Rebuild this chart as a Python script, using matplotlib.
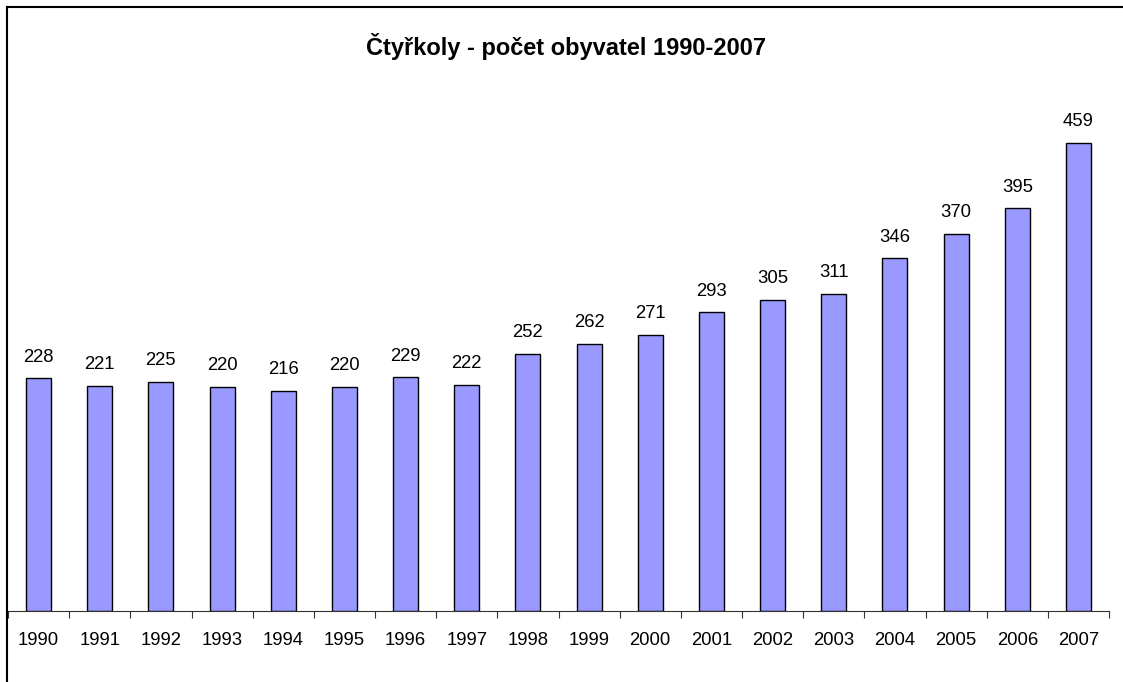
import matplotlib
matplotlib.use("Agg")
import matplotlib.pyplot as plt
from matplotlib.lines import Line2D
import numpy as np

years = ["1990", "1991", "1992", "1993", "1994", "1995", "1996", "1997", "1998",
         "1999", "2000", "2001", "2002", "2003", "2004", "2005", "2006", "2007"]
population = [228, 221, 225, 220, 216, 220, 229, 222, 252,
              262, 271, 293, 305, 311, 346, 370, 395, 459]
title = "Čtyřkoly - počet obyvatel 1990-2007"

plt.rcParams['font.family'] = ['Liberation Sans', 'DejaVu Sans']

W, H = 1123, 682
fig = plt.figure(figsize=(W / 100, H / 100), dpi=100)
fig.patch.set_facecolor("white")

# figure border (left and top visible)
fig.add_artist(Line2D([7 / W, 7 / W], [0, 1 - 7 / H], color="black", lw=1.5, transform=fig.transFigure))
fig.add_artist(Line2D([7 / W, 1], [1 - 7 / H, 1 - 7 / H], color="black", lw=1.5, transform=fig.transFigure))

ax = fig.add_axes([8 / W, (H - 611) / H, (1109 - 8) / W, (611 - 101) / H])
x = np.arange(len(years))
bars = ax.bar(x, population, width=0.41, color="#9999FF", edgecolor="black", linewidth=1.0)
ax.set_xlim(-0.5, len(years) - 0.5)
ax.set_ylim(0, 500)

for xi, v in zip(x, population):
    ax.annotate(str(v), (xi, v), xytext=(0, 9), textcoords="offset points",
                ha="center", va="bottom", fontsize=13.3)

for s in ["left", "right", "top"]:
    ax.spines[s].set_visible(False)
ax.spines["bottom"].set_color("#333333")
ax.set_yticks([])

ax.set_xticks(np.arange(len(years) + 1) - 0.5, minor=False)
ax.set_xticklabels([])
ax.tick_params(axis="x", which="major", length=5, color="#333333", direction="out")
ax.set_xticks(x, minor=True)
ax.set_xticklabels(years, minor=True, fontsize=13.3)
ax.tick_params(axis="x", which="minor", length=0, pad=15)

fig.text(566 / W, 1 - 47 / H, title, ha="center", va="center", fontsize=17, fontweight="bold")

fig.savefig("out.png", dpi=100)
